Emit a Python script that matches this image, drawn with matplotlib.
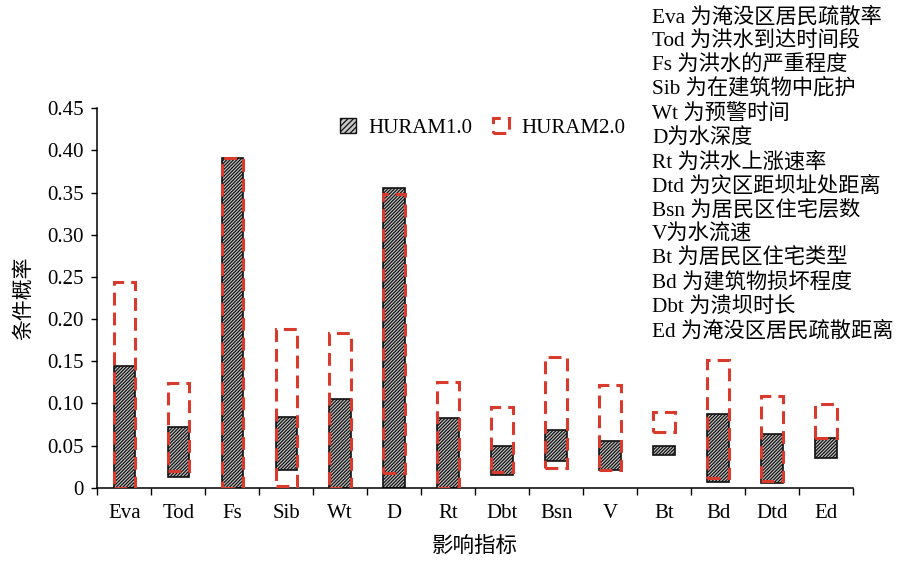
import matplotlib
matplotlib.use("Agg")
import matplotlib.pyplot as plt
from matplotlib.patches import Rectangle
from matplotlib.ticker import FixedLocator, NullFormatter
import numpy as np

plt.rcParams['font.family'] = ['Liberation Serif', 'Noto Sans CJK SC']
plt.rcParams['hatch.linewidth'] = 0.9
plt.rcParams['hatch.color'] = '#222222'

categories = ["Eva", "Tod", "Fs", "Sib", "Wt", "D", "Rt", "Dbt", "Bsn", "V", "Bt", "Bd", "Dtd", "Ed"]
h1_low = [0.0, 0.0123, 0.0, 0.021, 0.0, 0.0, 0.0, 0.015, 0.0317, 0.021, 0.0388, 0.0071, 0.0052, 0.0349]
h1_high = [0.1443, 0.0723, 0.391, 0.0842, 0.105, 0.355, 0.0823, 0.0495, 0.0684, 0.0557, 0.0495, 0.0874, 0.0637, 0.0586]
h2_low = [0.0, 0.0198, 0.0, 0.002, 0.0, 0.017, 0.0, 0.019, 0.023, 0.021, 0.0657, 0.0119, 0.0083, 0.0586]
h2_high = [0.2436, 0.1245, 0.391, 0.1879, 0.184, 0.348, 0.1257, 0.096, 0.1554, 0.1218, 0.0894, 0.1515, 0.109, 0.0993]
yticks = [0, 0.05, 0.10, 0.15, 0.20, 0.25, 0.30, 0.35, 0.40, 0.45]
ytick_labels = ["0", "0.05", "0.10", "0.15", "0.20", "0.25", "0.30", "0.35", "0.40", "0.45"]
legend_labels = ["HURAM1.0", "HURAM2.0"]
notes = ["Eva 为淹没区居民疏散率", "Tod 为洪水到达时间段", "Fs 为洪水的严重程度",
         "Sib 为在建筑物中庇护", "Wt 为预警时间", "D为水深度", "Rt 为洪水上涨速率",
         "Dtd 为灾区距坝址处距离", "Bsn 为居民区住宅层数", "V为水流速",
         "Bt 为居民区住宅类型", "Bd 为建筑物损坏程度", "Dbt 为溃坝时长",
         "Ed 为淹没区居民疏散距离"]
xlabel = "影响指标"
ylabel = "条件概率"

RED = '#d93a2e'
fig = plt.figure(figsize=(8.99, 5.61), dpi=100)
ax = fig.add_axes([0.1083, 0.1307, 0.8407, 0.6763])

x = np.arange(len(categories))
w = 0.4
lo1 = np.array(h1_low); hi1 = np.array(h1_high)
lo2 = np.array(h2_low); hi2 = np.array(h2_high)

ax.bar(x, hi1 - lo1, bottom=lo1, width=w, facecolor='#c8c8c8', edgecolor='#111111',
       linewidth=1.2, hatch='//////////', zorder=2, label=legend_labels[0])
ax.bar(x, hi2 - lo2, bottom=lo2, width=w, fill=False, edgecolor=RED,
       linewidth=2.2, linestyle=(0, (4.2, 2.3)), zorder=3, label=legend_labels[1])

ax.set_xlim(-0.5, len(categories) - 0.5)
ax.set_ylim(0, 0.45)
ax.set_yticks(yticks)
ax.set_yticklabels(ytick_labels, fontsize=15)
ax.set_xticks(x)
ax.set_xticklabels(categories, fontsize=15)
ax.tick_params(axis='x', which='major', length=0, pad=12)
ax.xaxis.set_minor_locator(FixedLocator(np.arange(-0.5, len(categories), 1.0)))
ax.xaxis.set_minor_formatter(NullFormatter())
ax.tick_params(axis='x', which='minor', length=5, width=1, direction='out')
ax.tick_params(axis='y', length=4, width=1, direction='out', pad=6)
for s in ['top', 'right']:
    ax.spines[s].set_visible(False)
for s in ['left', 'bottom']:
    ax.spines[s].set_linewidth(1.1)

ax.set_xlabel(xlabel, fontsize=15.5, labelpad=10)
ax.set_ylabel(ylabel, fontsize=15, labelpad=9)

h1 = Rectangle((0, 0), 1, 1, facecolor='#c8c8c8', edgecolor='#111111', linewidth=1.0, hatch='//////')
h2 = Rectangle((0, 0), 1, 1, fill=False, edgecolor=RED, linewidth=2.2, linestyle=(0, (4.2, 2.3)))
fig.legend([h1, h2], legend_labels, loc='center', bbox_to_anchor=(0.537, 0.772), ncol=2,
           frameon=False, fontsize=15, handlelength=0.75, handleheight=0.75,
           handletextpad=0.6, columnspacing=1.0)

y0 = 1 - 17 / 561
dy = 24.2 / 561
for i, t in enumerate(notes):
    fig.text(652 / 899, y0 - i * dy, t, fontsize=15.3, ha='left', va='center')

fig.savefig("out.png", dpi=100)
